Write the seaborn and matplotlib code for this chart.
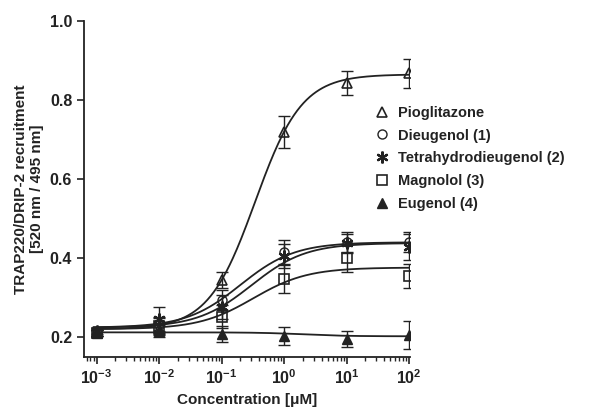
import numpy as np
import pandas as pd
import matplotlib
matplotlib.use("Agg")
import matplotlib.pyplot as plt
from matplotlib.ticker import LogLocator, NullFormatter
import seaborn as sns

# concentrations (uM)
conc = [0.001, 0.01, 0.1, 1, 10, 100]

names = ["Pioglitazone", "Dieugenol (1)", "Tetrahydrodieugenol (2)", "Magnolol (3)", "Eugenol (4)"]

pio = [0.210, 0.220, 0.344, 0.719, 0.843, 0.868]
dieug = [0.210, 0.230, 0.294, 0.416, 0.440, 0.440]
tetra = [0.215, 0.245, 0.277, 0.405, 0.437, 0.428]
magno = [0.210, 0.228, 0.252, 0.347, 0.400, 0.354]
eug = [0.210, 0.215, 0.207, 0.203, 0.195, 0.205]

# error bars
pio_err = [0.008, 0.015, 0.020, 0.040, 0.030, 0.037]
dieug_err = [0.008, 0.020, 0.025, 0.030, 0.025, 0.025]
tetra_err = [0.008, 0.030, 0.030, 0.030, 0.025, 0.032]
magno_err = [0.008, 0.020, 0.030, 0.035, 0.035, 0.030]
eug_err = [0.008, 0.015, 0.020, 0.022, 0.020, 0.035]

# fitted sigmoid parameters: bottom, top, EC50, hill
pio_fit = [0.220, 0.865, 0.344, 1.16]
dieug_fit = [0.224, 0.440, 0.20, 1.0]
tetra_fit = [0.224, 0.438, 0.30, 1.0]
magno_fit = [0.220, 0.376, 0.32, 1.0]
eug_fit = [0.212, 0.202, 2.0, 1.2]

values = [pio, dieug, tetra, magno, eug]
errors = [pio_err, dieug_err, tetra_err, magno_err, eug_err]
fits = [pio_fit, dieug_fit, tetra_fit, magno_fit, eug_fit]

sns.set_style("ticks")
plt.rcParams['font.family'] = ['Liberation Sans', 'DejaVu Sans']
plt.rcParams['font.weight'] = 'bold'

fig = plt.figure(figsize=(6, 4.13), dpi=100)
ax = fig.add_axes([0.14, 0.136, 0.543, 0.813])

ink = "#222222"
styles = [
    dict(marker="^", mfc="none", ms=7.5, mew=1.2),
    dict(marker="o", mfc="none", ms=6.5, mew=1.0),
    dict(marker=(6, 2, 0), mfc=ink, ms=8.5, mew=1.6),
    dict(marker="s", mfc="none", ms=6.5, mew=1.2),
    dict(marker="^", mfc=ink, ms=6.5, mew=1.0),
]

xs = np.logspace(-3.05, 2, 300)
for name, y, e, p, st in zip(names, values, errors, fits, styles):
    b, t, ec, h = p
    curve = pd.DataFrame({"x": xs, "y": b + (t - b) / (1 + (ec / xs) ** h)})
    sns.lineplot(data=curve, x="x", y="y", ax=ax, color=ink, lw=1.3, legend=False)
    ax.errorbar(conc, y, yerr=e, fmt="none", ecolor=ink, elinewidth=1.0, capsize=4, capthick=1.0)
    ax.plot(conc, y, ls="none", color=ink, mec=ink, label=name, **st)

ax.set_xscale("log")
ax.set_xlim(10 ** -3.2, 10 ** 2.01)
ax.set_ylim(0.15, 1.0)
ax.set_yticks([0.2, 0.4, 0.6, 0.8, 1.0])
ax.set_yticklabels(["0.2", "0.4", "0.6", "0.8", "1.0"])
ax.xaxis.set_major_locator(LogLocator(base=10, numticks=10))
ax.xaxis.set_minor_locator(LogLocator(base=10, subs=np.arange(2, 10), numticks=20))
ax.xaxis.set_minor_formatter(NullFormatter())
ax.tick_params(axis="both", labelsize=11.5, colors=ink, width=1.2, length=5)
ax.tick_params(axis="x", which="minor", length=3, width=1.0)
for lab in ax.get_xticklabels() + ax.get_yticklabels():
    lab.set_fontweight("bold")

for s in ["left", "bottom"]:
    ax.spines[s].set_linewidth(1.3)
    ax.spines[s].set_color(ink)
sns.despine(ax=ax)

ax.set_xlabel("Concentration [\u03bcM]", fontsize=11, fontweight="bold", color=ink)
ax.set_ylabel("TRAP220/DRIP-2 recruitment\n[520 nm / 495 nm]", fontsize=11, fontweight="bold", color=ink)

leg = ax.legend(loc="upper left", bbox_to_anchor=(0.875, 0.765), frameon=False,
                prop={"weight": "bold", "size": 10.5}, handletextpad=0.6,
                labelspacing=0.6, handlelength=1.0, borderaxespad=0)
for txt in leg.get_texts():
    txt.set_color(ink)

fig.savefig("out.png", dpi=100)
